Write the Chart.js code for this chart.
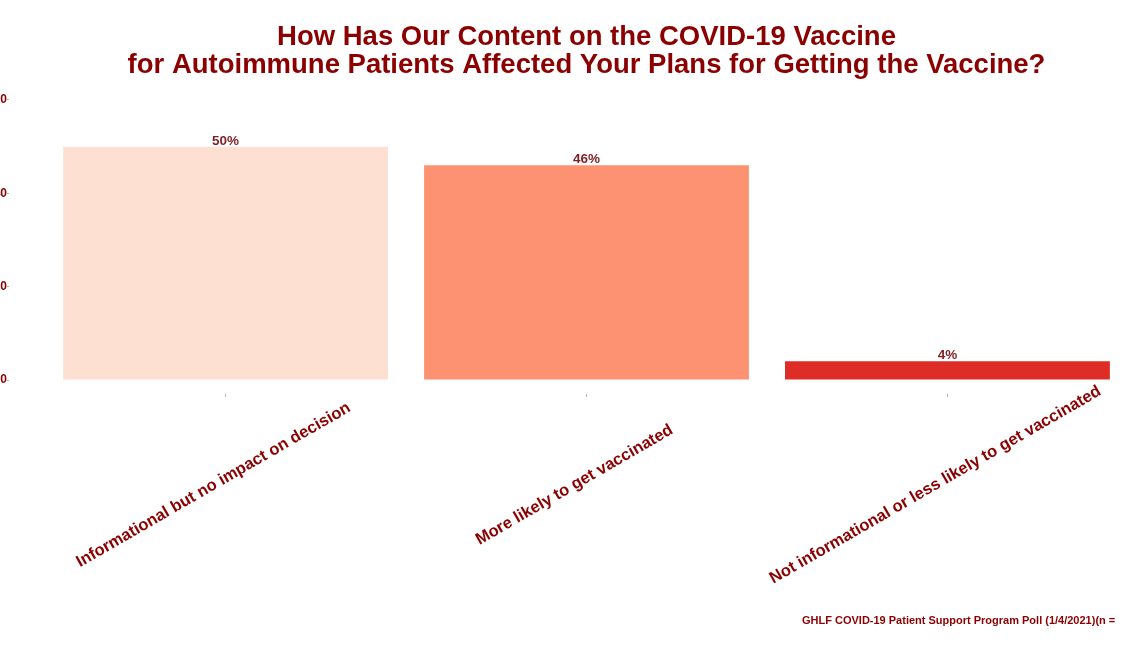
<!DOCTYPE html>
<html>
<head>
<meta charset="utf-8">
<script src="https://cdn.jsdelivr.net/npm/chart.js@4.4.0/dist/chart.umd.min.js"></script>
<style>
  html, body { margin: 0; padding: 0; width: 1140px; height: 660px; overflow: hidden; background: #ffffff; }
  #wrap { position: relative; width: 1140px; height: 660px; overflow: hidden; }
  #c { position: absolute; left: -20px; top: 0; }
  #note { position: absolute; left: 802px; top: 614px; font: bold 11px "Liberation Sans", Arial, sans-serif; color: #8B0000; white-space: nowrap; }
</style>
</head>
<body>
<div id="wrap">
  <canvas id="c" width="1184" height="660"></canvas>
  <div id="note">GHLF COVID-19 Patient Support Program Poll (1/4/2021)(n =</div>
</div>
<script>
// ---- data ----
const categories = [
  "Informational but no impact on decision",
  "More likely to get vaccinated",
  "Not informational or less likely to get vaccinated"
];
const values = [50, 46, 4];
const barColors = ["#FEE0D2", "#FC9272", "#DE2D26"];
const yTickValues = [0, 20, 40, 60];
const titleLines = [
  "How Has Our Content on the COVID-19 Vaccine",
  "for Autoimmune Patients Affected Your Plans for Getting the Vaccine?"
];

const FONT = '"Liberation Sans", Arial, sans-serif';
const DARK = "#8B0000";

const labelPlugin = {
  id: "labelPlugin",
  afterDatasetsDraw(chart) {
    const ctx = chart.ctx;
    const meta = chart.getDatasetMeta(0);
    ctx.save();
    ctx.font = "bold 13.5px " + FONT;
    ctx.fillStyle = "#7F1F24";
    ctx.textAlign = "center";
    ctx.textBaseline = "alphabetic";
    meta.data.forEach((bar, i) => {
      ctx.fillText(values[i] + "%", bar.x, bar.y - 2);
    });
    ctx.restore();
  },
  afterDraw(chart) {
    const ctx = chart.ctx;
    const xs = chart.scales.x;
    ctx.save();
    ctx.font = "bold 16.5px " + FONT;
    ctx.fillStyle = DARK;
    ctx.textAlign = "center";
    ctx.textBaseline = "middle";
    categories.forEach((c, i) => {
      const x = xs.getPixelForValue(i + 1) - 12;
      const y = 485;
      ctx.save();
      ctx.translate(x, y);
      ctx.rotate(-30 * Math.PI / 180);
      ctx.fillText(c, 0, 0);
      ctx.restore();
    });
    ctx.restore();
  }
};

new Chart(document.getElementById("c"), {
  type: "bar",
  data: {
    datasets: [{
      data: values.map((v, i) => ({ x: i + 1, y: v })),
      backgroundColor: barColors,
      borderWidth: 0,
      categoryPercentage: 1,
      barPercentage: 0.9
    }]
  },
  options: {
    responsive: false,
    animation: false,
    devicePixelRatio: 1,
    layout: { padding: 0 },
    plugins: {
      legend: { display: false },
      tooltip: { enabled: false },
      title: {
        display: true,
        fullSize: false,
        text: titleLines,
        color: DARK,
        font: { family: FONT, size: 27.5, weight: "bold", lineHeight: "28px" },
        padding: { top: 23, bottom: 7 }
      }
    },
    scales: {
      x: {
        type: "linear",
        offset: false,
        min: 0.4,
        max: 3.6,
        afterBuildTicks(scale) { scale.ticks = categories.map((c, i) => ({ value: i + 1 })); },
        afterFit(scale) { scale.height = 266; },
        ticks: { display: false },
        grid: { display: true, offset: false, drawOnChartArea: false, drawTicks: true, tickLength: 3, color: "#b5b5b5", lineWidth: 1 },
        border: { display: false }
      },
      y: {
        min: -3,
        max: 63,
        afterBuildTicks(scale) { scale.ticks = yTickValues.map(v => ({ value: v })); },
        afterFit(scale) { scale.width = 29; },
        ticks: { color: DARK, font: { family: FONT, size: 12, weight: "bold" }, padding: 0 },
        grid: { display: true, drawOnChartArea: false, drawTicks: true, tickLength: 2, color: "#b5b5b5", lineWidth: 1 },
        border: { display: false }
      }
    }
  },
  plugins: [labelPlugin]
});
</script>
</body>
</html>
